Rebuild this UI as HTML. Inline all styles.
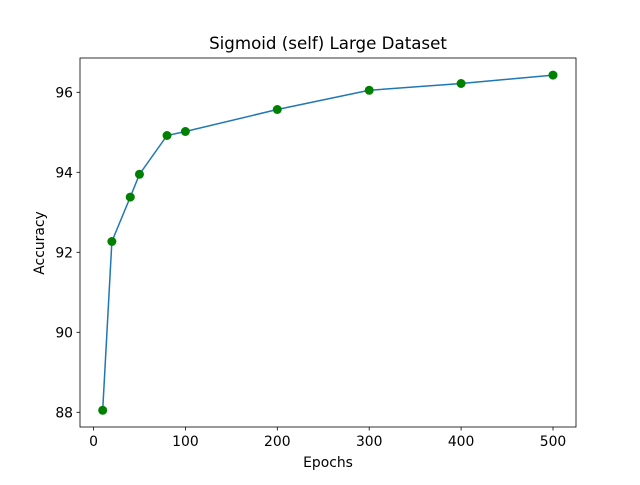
<!DOCTYPE html>
<html><head><meta charset="utf-8"><style>
body{margin:0;background:#fff}
svg{font-family:"DejaVu Sans","Liberation Sans",sans-serif}
</style></head><body>
<svg width="640" height="480" viewBox="0 0 640 480">
<rect width="640" height="480" fill="#fff"/>
<text x="328" y="49" text-anchor="middle" font-size="16.67">Sigmoid (self) Large Dataset</text>
<g id="ticks"></g>
<polyline id="line" fill="none" stroke="#1f77b4" stroke-width="1.5"/>
<g id="pts"></g>
<rect x="80" y="58" width="496" height="369" fill="none" stroke="#000" stroke-width="0.8"/>
<text x="328" y="467" text-anchor="middle" font-size="13.9">Epochs</text>
<text transform="translate(44,243) rotate(-90)" text-anchor="middle" font-size="13.9">Accuracy</text>
</svg>
<script>
const epochs=[10,20,40,50,80,100,200,300,400,500];
const accuracy=[88.05,92.27,93.38,93.95,94.92,95.02,95.57,96.05,96.22,96.43];
const xTicks=[0,100,200,300,400,500];
const yTicks=[88,90,92,94,96];
const NS="http://www.w3.org/2000/svg";
function sx(v){return 93.5+v*0.919;}
function sy(v){return 412.3-(v-88)*40;}
const line=document.getElementById('line');
line.setAttribute('points',epochs.map((e,i)=>sx(e)+','+sy(accuracy[i])).join(' '));
const pts=document.getElementById('pts');
epochs.forEach((e,i)=>{const c=document.createElementNS(NS,'circle');
c.setAttribute('cx',sx(e));c.setAttribute('cy',sy(accuracy[i]));c.setAttribute('r',4.5);c.setAttribute('fill','#008000');


pts.appendChild(c);});
const tg=document.getElementById('ticks');
xTicks.forEach(t=>{const x=sx(t);
const l=document.createElementNS(NS,'line');l.setAttribute('x1',x);l.setAttribute('x2',x);l.setAttribute('y1',427);l.setAttribute('y2',430.5);l.setAttribute('stroke','#000');l.setAttribute('stroke-width','0.8');


tg.appendChild(l);
const tx=document.createElementNS(NS,'text');tx.setAttribute('x',x);tx.setAttribute('y',446);tx.setAttribute('text-anchor','middle');tx.setAttribute('font-size','13.9');tx.textContent=t;


tg.appendChild(tx);});
yTicks.forEach(t=>{const y=sy(t);
const l=document.createElementNS(NS,'line');l.setAttribute('x1',76.5);l.setAttribute('x2',80);l.setAttribute('y1',y);l.setAttribute('y2',y);l.setAttribute('stroke','#000');l.setAttribute('stroke-width','0.8');


tg.appendChild(l);
const tx=document.createElementNS(NS,'text');tx.setAttribute('x',73);tx.setAttribute('y',y+5);tx.setAttribute('text-anchor','end');tx.setAttribute('font-size','13.9');tx.textContent=t;


tg.appendChild(tx);});
</script>
</body></html>
